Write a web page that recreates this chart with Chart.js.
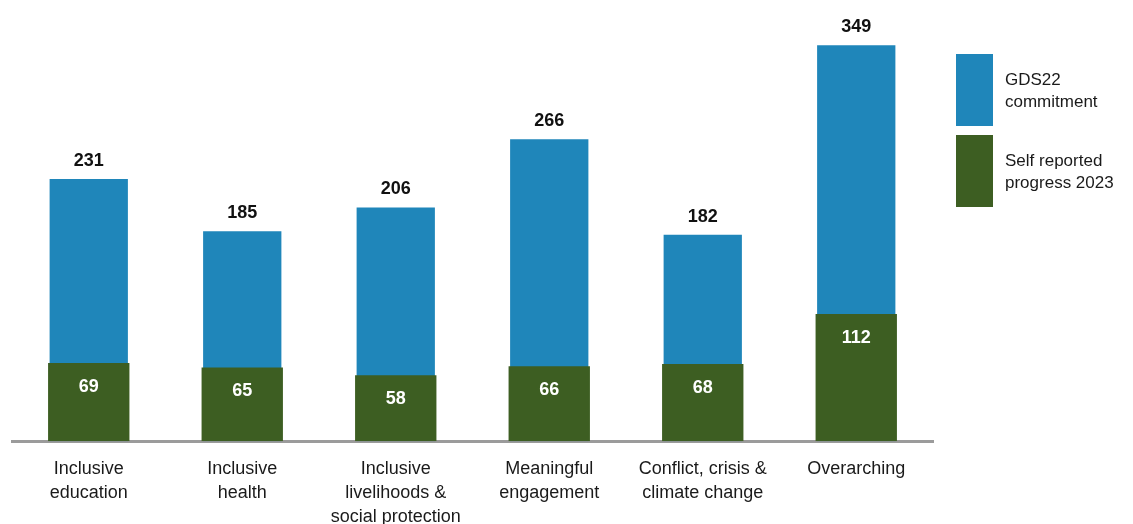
<!DOCTYPE html>
<html>
<head>
<meta charset="utf-8">
<script src="https://cdn.jsdelivr.net/npm/chart.js@4.4.0/dist/chart.umd.min.js"></script>
<style>
  html, body { margin: 0; padding: 0; background: #fff; overflow: hidden; }
  #wrap { width: 1133px; height: 524px; position: relative; }
</style>
</head>
<body>
<div id="wrap"><canvas id="myChart" width="1133" height="524"></canvas></div>
<script>
const categories = [
    ['Inclusive', 'education'],
    ['Inclusive', 'health'],
    ['Inclusive', 'livelihoods &', 'social protection'],
    ['Meaningful', 'engagement'],
    ['Conflict, crisis &', 'climate change'],
    ['Overarching']
];
const commitment = [231, 185, 206, 266, 182, 349];
const progress = [69, 65, 58, 66, 68, 112];
const seriesNames = [['GDS22', 'commitment'], ['Self reported', 'progress 2023']];

const BLUE = 'rgb(31, 134, 186)';
const GREEN = 'rgb(61, 94, 34)';
const FONT = '"Liberation Sans", Arial, sans-serif';

// value labels: blue totals above, green values inside the bar
const valueLabels = {
    id: 'valueLabels',
    afterDatasetsDraw(chart) {
        const ctx = chart.ctx;
        ctx.save();
        ctx.font = 'bold 18px ' + FONT;
        ctx.textAlign = 'center';
        ctx.textBaseline = 'middle';
        chart.data.datasets.forEach((ds, di) => {
            const meta = chart.getDatasetMeta(di);
            meta.data.forEach((bar, i) => {
                if (di === 0) {
                    ctx.fillStyle = '#111';
                    ctx.fillText(ds.data[i], bar.x, bar.y - 18);
                } else {
                    ctx.fillStyle = '#fff';
                    ctx.fillText(ds.data[i], bar.x, bar.y + 24);
                }
            });
        });
        ctx.restore();
    }
};

// legend on the right with tall boxes and two-line labels
const sideLegend = {
    id: 'sideLegend',
    afterDraw(chart) {
        const ctx = chart.ctx;
        ctx.save();
        ctx.font = '17px ' + FONT;
        ctx.textBaseline = 'middle';
        ctx.textAlign = 'left';
        chart.data.datasets.forEach((ds, di) => {
            const top = 54 + di * 81;
            ctx.fillStyle = ds.backgroundColor;
            ctx.fillRect(956, top, 37, 72);
            ctx.fillStyle = '#1a1a1a';
            seriesNames[di].forEach((line, li) => {
                ctx.fillText(line, 1005, top + 26 + li * 22);
            });
        });
        ctx.restore();
    }
};

new Chart(document.getElementById('myChart'), {
    type: 'bar',
    data: {
        labels: categories,
        datasets: [
            {
                label: seriesNames[0].join(' '),
                data: commitment,
                backgroundColor: BLUE,
                grouped: false,
                order: 1,
                barPercentage: 0.51,
                categoryPercentage: 1
            },
            {
                label: seriesNames[1].join(' '),
                data: progress,
                backgroundColor: GREEN,
                grouped: false,
                order: 0,
                barPercentage: 0.53,
                categoryPercentage: 1
            }
        ]
    },
    options: {
        responsive: false,
        animation: false,
        layout: { padding: { left: 12, right: 200, top: 10, bottom: -21 } },
        scales: {
            x: {
                grid: { display: false, drawTicks: false },
                border: { display: true, color: '#9b9b9b', width: 3 },
                ticks: {
                    color: '#1a1a1a',
                    padding: 16,
                    maxRotation: 0,
                    autoSkip: false,
                    font: { family: FONT, size: 18, lineHeight: 1.33 }
                }
            },
            y: {
                display: false,
                min: 0,
                max: 380
            }
        },
        plugins: {
            legend: { display: false },
            tooltip: { enabled: false }
        }
    },
    plugins: [valueLabels, sideLegend]
});
</script>
</body>
</html>
